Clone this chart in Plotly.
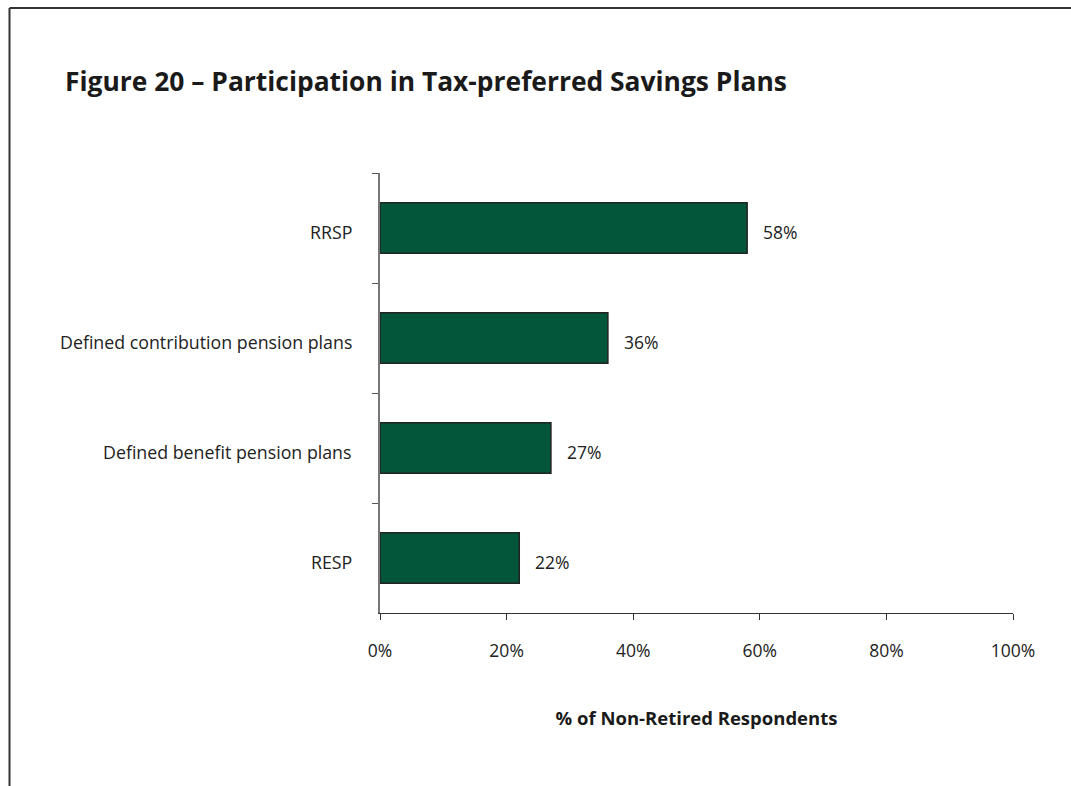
import plotly.graph_objects as go

categories = ["RRSP", "Defined contribution pension plans", "Defined benefit pension plans", "RESP"]
values = [58, 36, 27, 22]
value_labels = ["58%", "36%", "27%", "22%"]
x_ticks = [0, 20, 40, 60, 80, 100]
x_tick_labels = ["0%", "20%", "40%", "60%", "80%", "100%"]

W, H = 1071, 786
L, R, T, B = 380, 58, 173, 173
pw, ph = W - L - R, H - T - B

def px_to_paper_x(px):
    return (px - L) / pw

def px_to_paper_y(py):
    return (H - B - py) / ph

fig = go.Figure()
fig.add_trace(go.Bar(
    x=values, y=categories, orientation="h",
    marker=dict(color="#03563a", line=dict(color="#222222", width=1.5)),
    width=0.46, hoverinfo="skip",
))

# value labels beside each bar
for v, lab, c in zip(values, value_labels, categories):
    fig.add_annotation(x=v, y=c, text=lab, showarrow=False, xanchor="left",
                       xshift=14, yshift=-4, font=dict(size=17.5, color="#222222"))

# category labels left of the axis
for c in categories:
    fig.add_annotation(x=px_to_paper_x(354), xref="paper", y=c, yref="y", text=c,
                       showarrow=False, xanchor="right", yshift=-4,
                       font=dict(size=17.8, color="#222222"))

# page frame: left and top rules
fx = px_to_paper_x(9.5)
fy_top = px_to_paper_y(8)
fig.add_shape(type="line", xref="paper", yref="paper", x0=fx, x1=fx,
              y0=px_to_paper_y(H + 5), y1=fy_top, line=dict(color="#333333", width=2))
fig.add_shape(type="line", xref="paper", yref="paper", x0=fx, x1=px_to_paper_x(W + 5),
              y0=fy_top, y1=fy_top, line=dict(color="#333333", width=2))

fig.update_layout(
    width=W, height=H,
    margin=dict(l=L, r=R, t=T, b=B, autoexpand=False),
    paper_bgcolor="white", plot_bgcolor="white",
    font=dict(family="Open Sans", size=17.5, color="#222222"),
    showlegend=False,
    title=dict(text="<b>Figure 20 – Participation in Tax-preferred Savings Plans</b>",
               x=65 / W, xanchor="left", y=1 - 82 / H, yanchor="middle",
               font=dict(size=26.4, color="#1a1a1a")),
    xaxis=dict(range=[0, 100], tickvals=x_ticks, ticktext=x_tick_labels,
               showgrid=False, zeroline=False, showline=True, linecolor="#333333",
               linewidth=1, ticks="outside", ticklen=6, tickcolor="#333333",
               ticklabelstandoff=16, tickfont=dict(size=17.5),
               title=dict(text="<b>% of Non-Retired Respondents</b>", standoff=51,
                          font=dict(size=18.5, color="#1a1a1a"))),
    yaxis=dict(categoryorder="array", categoryarray=categories, autorange="reversed",
               tickson="boundaries", showgrid=False, zeroline=False, showline=True,
               linecolor="#777777", linewidth=1.5, ticks="outside", ticklen=6,
               tickcolor="#555555", showticklabels=False),
)

fig.write_html("out.html")
